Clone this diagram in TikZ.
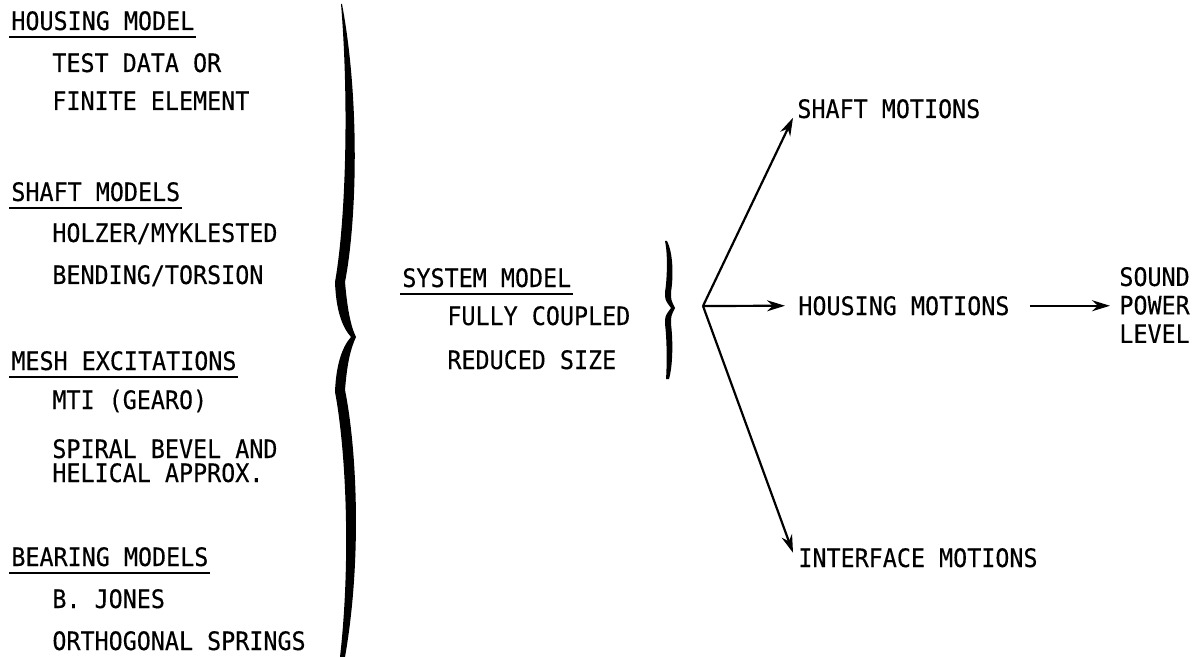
\documentclass[tikz,border=0pt]{standalone}
\usepackage{fontspec}
\setmonofont[FakeStretch=0.92,FakeBold=0.3]{DejaVu Sans Mono}
\usetikzlibrary{arrows.meta,calc}
\tikzset{
  txt/.style={inner sep=0pt,anchor=base west,font=\ttfamily\fontsize{12.7}{14.25}\selectfont},
  uline/.style={line width=0.9pt},
  arr/.style={line width=1.1pt,-{Stealth[length=9pt,width=5.5pt]}}
}

\begin{document}
\begin{tikzpicture}[x=0.5pt,y=-0.5pt]
  \useasboundingbox (0,0) rectangle (1202,657);
  % Teilmodelle
  \node[txt] (hm) at (11,30) {HOUSING MODEL};
  \node[txt] (td) at (52,72) {TEST DATA OR};
  \node[txt] (fe) at (52,110) {FINITE ELEMENT};
  \node[txt] (sm) at (11,201) {SHAFT MODELS};
  \node[txt] (hk) at (52,242) {HOLZER/MYKLESTED};
  \node[txt] (bt) at (52,284) {BENDING/TORSION};
  \node[txt] (me) at (11,370) {MESH EXCITATIONS};
  \node[txt] (mt) at (52,409) {MTI (GEARO)};
  \node[txt] (sb) at (52,458) {SPIRAL BEVEL AND};
  \node[txt] (ha) at (52,482) {HELICAL APPROX.};
  \node[txt] (bm) at (11,566) {BEARING MODELS};
  \node[txt] (bj) at (52,608) {B. JONES};
  \node[txt] (os) at (52,650) {ORTHOGONAL SPRINGS};
  % Systemmodell
  \node[txt] (sy) at (402,287) {SYSTEM MODEL};
  \node[txt] (fc) at (447,325) {FULLY COUPLED};
  \node[txt] (rs) at (447,369) {REDUCED SIZE};
  % Unterstreichungen
  \foreach \n in {hm,sm,me,bm,sy} {
    \draw[uline] ([shift={(-2,7)}]\n.base west) -- ([shift={(1,7)}]\n.base east);
  }
  % Grosse Klammer
  \fill (342,4) .. controls (360,100) and (357,220) .. (345,282)
    .. controls (347,305) and (350,325) .. (356,337)
    .. controls (350,350) and (347,365) .. (345,390)
    .. controls (357,450) and (362,560) .. (345,657) -- (340,657)
    .. controls (351,560) and (346,450) .. (335,392)
    .. controls (336,365) and (342,347) .. (351,337)
    .. controls (342,327) and (336,310) .. (335,282)
    .. controls (346,220) and (349,100) .. (341,4) -- cycle;
  % Kleine Klammer
  \fill (667,241) .. controls (674,255) and (673,280) .. (671,292)
    .. controls (671,300) .. (675,308)
    .. controls (671,316) .. (671,324)
    .. controls (673,340) and (673,365) .. (669,379) -- (666,379)
    .. controls (667,365) and (667,340) .. (665,324)
    .. controls (665,316) .. (671,308)
    .. controls (665,300) .. (665,292)
    .. controls (667,280) and (668,255) .. (665,241) -- cycle;
  % Ergebnisse
  \node[txt] (shm) at (797,118) {SHAFT MOTIONS};
  \node[txt] (hsm) at (798,315) {HOUSING MOTIONS};
  \node[txt] (ifm) at (798,567) {INTERFACE MOTIONS};
  \node[txt,anchor=west,align=left] (snd) at (1119,305) {SOUND\\POWER\\LEVEL};
  \coordinate (hub) at (703,306);
  \draw[arr] (hub) -- ([shift={(-4,-1)}]shm.south west);
  \draw[arr] (hub) -- ([shift={(-13,0)}]hsm.west);
  \draw[arr] (hub) -- ([shift={(-5,5)}]ifm.north west);
  \draw[arr] ([shift={(20,0)}]hsm.east) -- ($(hsm.east -| snd.west)+(-9,0)$);
\end{tikzpicture}
\end{document}
